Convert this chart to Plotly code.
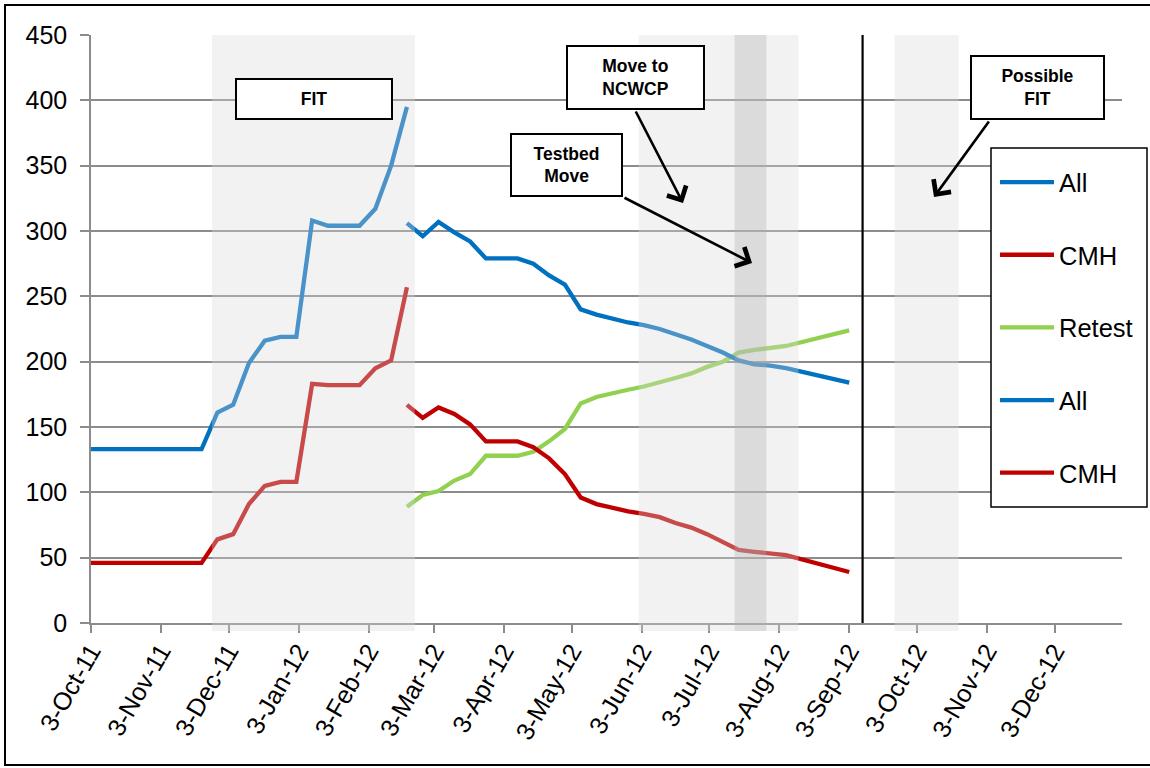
import plotly.graph_objects as go

# ---- data -------------------------------------------------------------
dates_early = [
    "2011-10-03", "2011-10-10", "2011-10-17", "2011-10-24", "2011-10-31",
    "2011-11-07", "2011-11-14", "2011-11-21", "2011-11-28", "2011-12-05",
    "2011-12-12", "2011-12-19", "2011-12-26", "2012-01-02", "2012-01-09",
    "2012-01-16", "2012-01-23", "2012-01-30", "2012-02-06", "2012-02-13",
    "2012-02-20",
]
all_early = [133, 133, 133, 133, 133, 133, 133, 133, 161, 167, 199, 216,
             219, 219, 308, 304, 304, 304, 317, 350, 395]
cmh_early = [46, 46, 46, 46, 46, 46, 46, 46, 64, 68, 91, 105,
             108, 108, 183, 182, 182, 182, 195, 201, 257]

dates_late = [
    "2012-02-20", "2012-02-27", "2012-03-05", "2012-03-12", "2012-03-19",
    "2012-03-26", "2012-04-02", "2012-04-09", "2012-04-16", "2012-04-23",
    "2012-04-30", "2012-05-07", "2012-05-14", "2012-05-21", "2012-05-28",
    "2012-06-04", "2012-06-11", "2012-06-18", "2012-06-25", "2012-07-02",
    "2012-07-09", "2012-07-16", "2012-07-23", "2012-07-30", "2012-08-06",
    "2012-09-03",
]
all_late = [306, 296, 307, 299, 292, 279, 279, 279, 275, 266, 259, 240, 236,
            233, 230, 228, 225, 221, 217, 212, 207, 201, 198, 197, 195, 184]
cmh_late = [167, 157, 165, 160, 152, 139, 139, 139, 134.5, 126, 114, 96, 91,
            88, 85.5, 83.5, 81, 76.5, 73, 68, 62, 56, 54.5, 53, 52, 39]
retest = [89, 98, 101, 109, 114, 128, 128, 128, 131, 139, 148.5, 168, 173,
          176, 178.5, 181, 184, 187.5, 191, 196, 200, 207, 209, 210.5, 212, 224]

tick_dates = [
    "2011-10-03", "2011-11-03", "2011-12-03", "2012-01-03", "2012-02-03",
    "2012-03-03", "2012-04-03", "2012-05-03", "2012-06-03", "2012-07-03",
    "2012-08-03", "2012-09-03", "2012-10-03", "2012-11-03", "2012-12-03",
]
tick_labels = [
    "3-Oct-11", "3-Nov-11", "3-Dec-11", "3-Jan-12", "3-Feb-12", "3-Mar-12",
    "3-Apr-12", "3-May-12", "3-Jun-12", "3-Jul-12", "3-Aug-12", "3-Sep-12",
    "3-Oct-12", "3-Nov-12", "3-Dec-12",
]
y_ticks = [0, 50, 100, 150, 200, 250, 300, 350, 400, 450]

# shaded periods (start, end) and the marker line date
light_periods = [("2011-11-25 14:00", "2012-02-23 12:00"),
                 ("2012-06-01 17:00", "2012-08-11 12:00"),
                 ("2012-09-23 02:00", "2012-10-21 12:00")]
dark_periods = [("2012-07-14 05:00", "2012-07-28 07:00")]
marker_date = "2012-09-08 22:00"

# ---- styling ----------------------------------------------------------
BLUE = "#0070C0"
RED = "#C00000"
GREEN = "#92D050"
GRID = "#8C8C8C"
FONT = "Liberation Sans, Arial, sans-serif"

# plot-area geometry in pixels (used to place boxes and arrows)
L, T, W, H = 91, 35, 1031, 588


def px(x):
    return (x - L) / W


def py(y):
    return (T + H - y) / H


fig = go.Figure()

series = [
    ("All", dates_early, all_early, BLUE),
    ("CMH", dates_early, cmh_early, RED),
    ("Retest", dates_late, retest, GREEN),
    ("All", dates_late, all_late, BLUE),
    ("CMH", dates_late, cmh_late, RED),
]
for i, (name, xs, ys, col) in enumerate(series):
    fig.add_trace(go.Scatter(
        x=xs, y=ys, name=name, mode="lines",
        line=dict(color=col, width=4.3),
        legendgroup=f"g{i}",
        hoverinfo="skip",
    ))

shapes = []
for x0, x1 in light_periods:
    shapes.append(dict(type="rect", xref="x", yref="paper", x0=x0, x1=x1,
                       y0=-0.0136, y1=1, layer="above",
                       fillcolor="rgb(218,218,218)", opacity=0.34,
                       line=dict(width=0)))
for x0, x1 in dark_periods:
    shapes.append(dict(type="rect", xref="x", yref="paper", x0=x0, x1=x1,
                       y0=-0.0136, y1=1, layer="above",
                       fillcolor="rgb(175,175,175)", opacity=0.34,
                       line=dict(width=0)))
shapes.append(dict(type="line", xref="x", yref="y", x0=marker_date,
                   x1=marker_date, y0=0, y1=450, layer="above",
                   line=dict(color="black", width=2.2)))
# legend frame
shapes.append(dict(type="rect", xref="paper", yref="paper",
                   x0=px(991), x1=px(1147), y0=py(507), y1=py(148),
                   fillcolor="white", line=dict(color="black", width=1.5),
                   layer="above"))
# outer chart frame
shapes.append(dict(type="rect", xref="paper", yref="paper",
                   x0=px(5), x1=px(1165), y0=py(765), y1=py(5),
                   line=dict(color="black", width=2), layer="above"))

annotations = []
boxes = [
    ("<b>FIT</b>", 314, 99, 154, 38),
    ("<b>Move to<br>NCWCP</b>", 635.5, 77.5, 135, 61),
    ("<b>Testbed<br>Move</b>", 566.5, 165, 109, 60),
    ("<b>Possible<br>FIT</b>", 1037.5, 87.5, 131, 61),
]
for text, cx, cy, w, h in boxes:
    annotations.append(dict(
        text=text, xref="paper", yref="paper", x=px(cx), y=py(cy),
        xanchor="center", yanchor="middle", showarrow=False,
        width=w, height=h, borderpad=0, bordercolor="black", borderwidth=2,
        bgcolor="white", font=dict(family=FONT, size=17.5, color="black"),
        align="center", valign="middle",
    ))

arrows = [
    ((635, 110), (683, 203)),
    ((623, 197), (752, 263)),
    ((990, 120), (934, 197)),
]
for (tx, ty), (hx, hy) in arrows:
    annotations.append(dict(
        text="", xref="paper", yref="paper", x=px(hx), y=py(hy),
        axref="pixel", ayref="pixel", ax=tx - hx, ay=ty - hy,
        showarrow=True, arrowhead=4, arrowsize=1.6, arrowwidth=2.6,
        arrowcolor="black", standoff=0, startstandoff=0,
    ))

fig.update_layout(
    width=1150, height=768,
    margin=dict(l=L, r=1150 - L - W, t=T, b=768 - T - H),
    paper_bgcolor="white", plot_bgcolor="white",
    font=dict(family=FONT, color="black"),
    shapes=shapes, annotations=annotations,
    showlegend=True,
    legend=dict(
        x=px(995), y=py(159), xanchor="left", yanchor="top",
        borderwidth=0, bgcolor="rgba(0,0,0,0)",
        font=dict(family=FONT, size=25.5, color="black"),
        traceorder="grouped", tracegroupgap=36.5, itemwidth=54,
    ),
    xaxis=dict(
        type="date", range=["2011-10-03", "2013-01-01 21:00"],
        tickmode="array", tickvals=tick_dates, ticktext=tick_labels,
        tickangle=-60, ticks="outside", ticklen=8, tickcolor=GRID,
        tickwidth=1.5, showgrid=False, showline=True, linecolor=GRID,
        linewidth=1.5, tickfont=dict(family=FONT, size=25, color="black"),
        ticklabelstandoff=-6, zeroline=False,
    ),
    yaxis=dict(
        range=[0, 450], tickmode="array", tickvals=y_ticks,
        ticks="outside", ticklen=9, tickcolor=GRID, tickwidth=1.5,
        showgrid=True, gridcolor=GRID, gridwidth=1.5,
        showline=True, linecolor=GRID, linewidth=1.5, zeroline=False,
        ticklabelstandoff=8,
        tickfont=dict(family=FONT, size=25, color="black"),
    ),
)

fig.write_html("out.html")
